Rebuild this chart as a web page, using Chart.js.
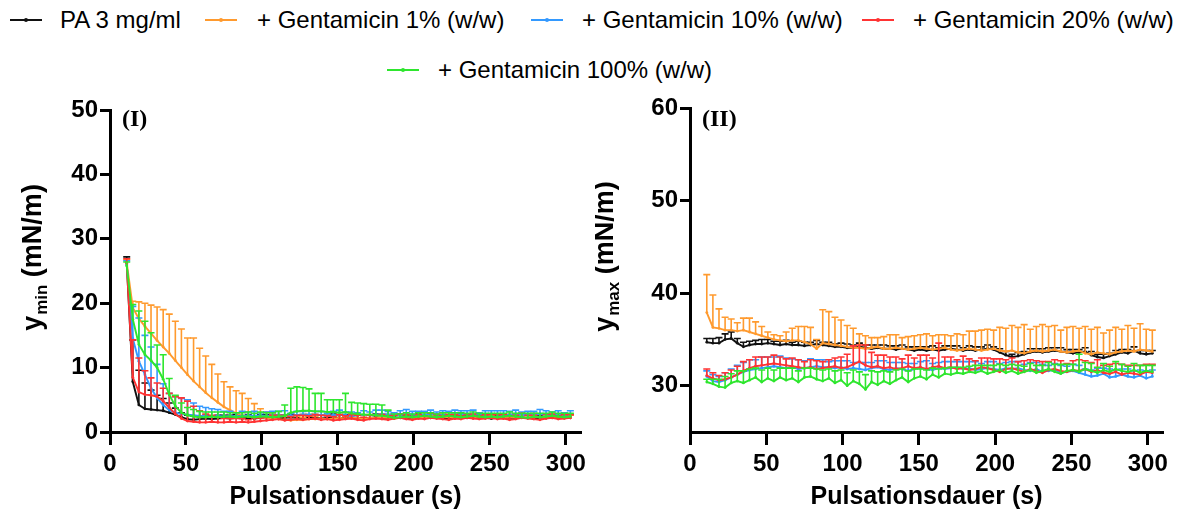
<!DOCTYPE html>
<html>
<head>
<meta charset="utf-8">
<script src="https://cdn.jsdelivr.net/npm/chart.js@4.4.1/dist/chart.umd.min.js"></script>
<style>
  html, body { margin: 0; padding: 0; background: #fff; }
  body { width: 1190px; height: 515px; position: relative; overflow: hidden;
         font-family: "Liberation Sans", Arial, sans-serif; }
  .sw { position: absolute; height: 2px; width: 32px; }
  .sw i { position: absolute; left: 14px; top: -1px; width: 4px; height: 4px; border-radius: 50%; }
  .lt { position: absolute; font-size: 24px; line-height: 28px; color: #000; white-space: nowrap; }
  .panel { position: absolute; top: 90px; width: 595px; height: 425px; }
</style>
</head>
<body>
<div id="legend"></div>
<div class="panel" style="left:0"><canvas id="cMin" width="595" height="425"></canvas></div>
<div class="panel" style="left:595px"><canvas id="cMax" width="595" height="425"></canvas></div>
<script>
// Pulsation time points (s)
const timeS = [11,15,19,23,27,31,35,39,43,47, 51,55,59,63,67,71,75,79,83,87,
  91,95,99,103,107,111,115,119,123,127, 131,135,139,143,147,151,155,159,163,167,
  171,175,179,183,187,191,195,199,203,207, 211,215,219,223,227,231,235,239,243,247,
  251,255,259,263,267,271,275,279,283,287, 291,295,299,303];

const seriesNames = ["PA 3 mg/ml", "+ Gentamicin 1% (w/w)", "+ Gentamicin 10% (w/w)",
  "+ Gentamicin 20% (w/w)", "+ Gentamicin 100% (w/w)"];
const seriesColors = ["#111111", "#ff9a2e", "#3399ff", "#ff3333", "#2ee62e"];

const xTicks = [0, 50, 100, 150, 200, 250, 300];
const yMinTicks = [0, 10, 20, 30, 40, 50];
const yMaxTicks = [30, 40, 50, 60];

// ---- minimum surface tension (mN/m), mean and SD ----
const yminPA = [26.4,7.8,4.2,3.6,3.5,3.4,3.3,3.0,2.7,2.3, 2.0,1.9,2.0,2.1,2.0,2.1,2.2,2.1,2.2,2.1,
  2.2,2.1,2.2,2.3,2.2,2.1,2.2,2.3,2.2,2.2, 2.3,2.2,2.1,2.2,2.3,2.2,2.2,2.3,2.2,2.1,
  2.2,2.3,2.2,2.2,2.3,2.2,2.1,2.2,2.3,2.2, 2.2,2.3,2.2,2.1,2.2,2.3,2.2,2.2,2.3,2.2,
  2.1,2.2,2.3,2.2,2.2,2.3,2.2,2.1,2.2,2.3, 2.2,2.2,2.3,2.2];
const yminPA_sd = [0.8,6.5,5.4,4.0,3.0,2.3,1.9,1.5,1.0,0.7, 0.6,0.6,0.5,0.5,0.5,0.5,0.4,0.5,0.5,0.4,
  0.5,0.4,0.5,0.4,0.5,0.5,0.4,0.5,0.4,0.5, 0.4,0.5,0.5,0.4,0.5,0.4,0.5,0.4,0.5,0.5,
  0.4,0.5,0.4,0.5,0.4,0.5,0.5,0.4,0.5,0.4, 0.5,0.4,0.5,0.5,0.4,0.5,0.4,0.5,0.4,0.5,
  0.5,0.4,0.5,0.4,0.5,0.4,0.5,0.5,0.4,0.5, 0.4,0.5,0.4,0.5];

const yminG1 = [26.3,19.3,17.6,16.4,15.3,14.2,13.2,12.2,11.1,10.0, 8.9,7.9,7.0,6.1,5.3,4.6,3.9,3.4,2.9,2.6,
  2.4,2.3,2.3,2.2,2.1,2.0,1.9,1.8,1.9,1.9, 2.0,2.0,2.1,2.0,2.1,2.2,2.1,2.2,2.2,2.1,
  2.2,2.2,2.3,2.2,2.1,2.2,2.3,2.2,2.2,2.3, 2.2,2.3,2.4,2.3,2.2,2.3,2.2,2.3,2.4,2.3,
  2.2,2.3,2.2,2.3,2.3,2.2,2.3,2.4,2.3,2.2, 2.3,2.4,2.3,2.2];
const yminG1_sd = [0.5,1.0,2.6,3.6,4.4,5.2,5.8,6.1,6.1,6.0, 5.7,6.7,6.0,5.7,5.2,4.4,3.9,3.6,3.5,3.4,
  2.8,2.1,1.3,0.9,0.7,0.6,0.5,0.6,0.5,0.4, 0.5,0.4,0.5,0.6,0.4,0.5,0.4,0.5,0.4,0.5,
  0.5,0.4,0.5,0.4,0.5,0.6,0.4,0.5,0.4,0.5, 0.4,0.5,0.5,0.4,0.5,0.4,0.5,0.4,0.5,0.5,
  0.4,0.5,0.4,0.5,0.4,0.5,0.4,0.5,0.5,0.4, 0.5,0.4,0.5,0.4];

const yminG10 = [26.0,14.5,11.0,8.9,6.8,5.3,4.2,3.4,3.0,2.8, 2.7,2.6,2.5,2.5,2.4,2.5,2.4,2.5,2.4,2.5,
  2.6,2.5,2.6,2.5,2.6,2.7,2.6,2.5,2.6,2.7, 2.6,2.7,2.6,2.5,2.6,2.7,2.6,2.5,2.6,2.7,
  2.6,2.7,2.8,2.7,2.6,2.7,2.8,2.7,2.6,2.7, 2.8,2.7,2.6,2.7,2.8,2.7,2.8,2.7,2.6,2.7,
  2.8,2.7,2.6,2.7,2.8,2.7,2.6,2.7,2.8,2.7, 2.6,2.7,2.6,2.7];
const yminG10_sd = [0.6,5.0,6.7,6.1,6.4,5.2,3.3,2.6,2.5,2.4, 2.3,1.9,1.5,1.3,1.2,1.0,0.8,0.7,0.6,0.7,
  0.5,0.7,0.4,0.6,0.6,0.5,0.7,0.4,0.6,0.5, 0.7,0.5,0.6,0.4,0.6,0.7,0.5,0.6,0.4,0.6,
  0.5,0.7,0.6,0.5,0.4,0.6,0.7,0.5,0.6,0.5, 0.6,0.4,0.7,0.5,0.6,0.6,0.5,0.7,0.4,0.6,
  0.5,0.6,0.7,0.5,0.6,0.4,0.6,0.5,0.7,0.6, 0.5,0.6,0.4,0.6];

const yminG20 = [26.2,8.5,6.2,5.8,5.7,5.5,4.8,3.8,2.8,2.1, 1.7,1.6,1.5,1.5,1.6,1.5,1.5,1.6,1.5,1.6,
  1.5,1.6,1.7,1.8,1.9,2.0,1.8,1.9,2.0,1.9, 2.0,2.1,1.9,2.0,1.8,1.9,2.0,2.1,1.9,1.8,
  2.0,2.1,2.0,1.9,2.1,2.2,2.0,1.9,2.1,2.0, 2.2,2.1,2.0,1.9,2.1,2.0,2.2,2.1,2.0,2.1,
  2.2,2.0,2.1,1.9,2.0,2.2,2.1,2.0,1.9,2.1, 2.2,2.0,2.1,2.2];
const yminG20_sd = [0.7,5.8,5.3,3.7,2.7,2.1,2.0,2.2,2.7,3.2, 3.1,2.4,1.8,1.3,1.0,0.8,0.6,0.5,0.6,0.5,
  0.4,0.6,0.5,0.5,0.7,0.6,0.8,0.5,0.6,0.7, 0.5,0.6,0.7,0.5,0.6,0.8,0.5,0.6,0.7,0.5,
  0.6,0.5,0.7,0.6,0.5,0.6,0.7,0.5,0.6,0.5, 0.7,0.6,0.5,0.8,0.6,0.5,0.6,0.7,0.5,0.6,
  0.5,0.7,0.6,0.5,0.6,0.7,0.5,0.6,0.5,0.7, 0.6,0.5,0.6,0.5];

const yminG100 = [25.8,17.5,13.6,12.0,11.1,10.0,8.2,5.8,4.0,3.0, 2.6,2.4,2.3,2.3,2.4,2.3,2.4,2.4,2.3,2.4,
  2.4,2.3,2.4,2.4,2.3,2.4,2.5,3.0,3.2,3.3, 3.3,3.2,3.2,3.1,3.1,3.0,3.1,2.9,2.8,2.7,
  2.7,2.6,2.5,2.4,2.2,2.3,2.4,2.3,2.4,2.5, 2.4,2.3,2.4,2.5,2.4,2.3,2.4,2.5,2.4,2.3,
  2.4,2.3,2.4,2.5,2.4,2.3,2.2,2.4,2.3,2.4, 2.5,2.4,2.3,2.4];
const yminG100_sd = [0.6,2.3,5.2,5.2,4.3,3.5,3.8,2.5,1.7,1.5, 1.2,1.1,0.9,0.8,0.7,0.8,0.7,0.6,0.7,0.6,
  0.7,0.6,0.7,0.6,0.7,0.8,1.7,3.8,3.8,3.6, 3.4,2.8,2.8,1.9,1.9,2.0,2.9,1.7,1.7,1.7,
  1.6,1.7,1.7,1.0,0.6,0.5,0.6,0.5,0.6,0.5, 0.6,0.5,0.6,0.5,0.6,0.7,0.5,0.6,0.5,0.6,
  0.5,0.6,0.5,0.6,0.5,0.6,0.7,0.5,0.6,0.5, 0.6,0.5,0.6,0.5];

// ---- maximum surface tension (mN/m), mean and SD ----
const ymaxPA = [34.7,34.6,34.6,35.0,35.1,34.6,34.2,34.4,34.5,34.5, 34.6,34.5,34.4,34.5,34.4,34.4,34.3,34.4,34.5,34.4,
  34.3,34.2,34.2,34.1,34.1,34.2,34.1,34.0,34.1,34.0, 34.0,33.9,34.0,33.9,33.8,33.9,33.8,33.9,33.8,33.9,
  34.0,33.9,33.8,33.9,33.8,33.9,34.0,33.9,33.6,33.3, 33.1,33.2,33.4,33.6,33.7,33.6,33.7,33.8,33.7,33.6,
  33.5,33.6,33.7,33.3,33.1,33.0,33.2,33.4,33.6,33.5, 33.8,33.5,33.4,33.5];
const ymaxPA_sd = [0.4,0.5,0.6,0.6,0.7,0.5,0.5,0.4,0.4,0.5, 0.4,0.3,0.4,0.4,0.3,0.4,0.4,0.3,0.4,0.3,
  0.4,0.3,0.4,0.4,0.3,0.4,0.3,0.4,0.3,0.4, 0.3,0.4,0.4,0.3,0.4,0.3,0.4,0.4,0.3,0.4,
  0.3,0.4,0.3,0.4,0.4,0.3,0.4,0.3,0.4,0.4, 0.3,0.4,0.3,0.4,0.3,0.4,0.4,0.3,0.4,0.3,
  0.4,0.3,0.4,0.4,0.3,0.4,0.3,0.4,0.3,0.4, 0.4,0.3,0.4,0.3];

const ymaxG1 = [37.9,36.3,36.2,36.0,36.0,35.9,36.0,35.8,35.6,35.4, 35.2,35.0,34.9,34.8,34.9,34.9,34.7,34.5,34.0,34.6,
  34.5,34.4,34.3,34.2,34.1,34.1,34.0,34.1,34.2,34.0, 34.0,34.1,34.0,33.9,34.0,34.1,34.0,33.9,34.0,34.1,
  33.9,33.8,33.9,34.0,33.9,33.8,33.9,34.0,33.8,33.7, 33.8,33.6,33.5,33.7,33.8,33.7,33.8,33.9,33.7,33.6,
  33.7,33.8,33.5,33.4,33.6,33.5,33.4,33.6,33.7,33.8, 33.7,33.9,33.8,33.7];
const ymaxG1_sd = [4.1,3.5,2.1,1.4,1.2,0.9,1.3,1.5,1.3,1.0, 0.6,0.5,0.5,1.0,1.3,1.5,1.7,1.8,1.0,3.6,
  3.5,3.0,2.8,2.3,2.1,1.5,1.4,1.1,1.0,1.3, 1.5,1.4,1.2,1.4,1.4,1.4,1.6,1.5,1.5,1.4,
  1.5,1.8,1.6,1.9,2.0,2.2,2.2,2.0,2.5,2.5, 2.7,2.7,3.1,2.4,2.6,2.9,2.6,2.6,2.3,2.7,
  2.7,2.4,2.9,2.7,2.7,2.2,2.6,2.7,2.4,2.7, 2.5,2.8,2.3,2.3];

const ymaxG10 = [31.0,30.5,30.4,30.6,30.9,31.2,31.5,31.7,31.8,31.9, 32.0,32.1,32.0,31.9,32.0,31.8,31.9,32.0,32.1,32.0,
  32.0,31.9,32.0,31.8,31.9,31.8,31.7,31.9,32.0,31.8, 31.7,31.9,31.8,31.6,31.8,31.9,31.8,31.7,31.9,31.8,
  31.9,32.0,31.8,31.9,31.7,31.8,31.9,31.8,31.7,31.9, 31.8,31.9,31.7,31.6,31.8,31.5,31.6,31.7,31.4,31.5,
  31.6,31.4,31.2,31.0,31.1,31.3,30.9,31.0,31.2,31.0, 30.9,31.1,30.8,31.0];
const ymaxG10_sd = [0.6,0.7,0.6,0.8,0.9,1.0,1.0,1.1,1.0,1.2, 1.1,1.0,1.2,1.1,0.9,1.0,0.8,0.9,0.7,0.8,
  0.6,0.8,0.7,0.9,0.6,0.7,0.8,0.6,0.7,0.9, 0.8,0.6,0.7,0.8,0.6,0.7,0.9,0.7,0.6,0.8,
  0.7,0.6,0.8,0.7,0.9,0.6,0.7,0.8,0.7,0.6, 0.8,0.7,0.6,0.9,0.7,0.8,0.6,0.7,0.8,0.6,
  0.7,0.8,0.6,0.7,0.8,0.6,0.9,0.7,0.6,0.8, 0.7,0.6,0.8,0.7];

const ymaxG20 = [31.1,30.8,30.6,30.7,30.9,31.2,31.6,31.9,32.1,32.2, 32.3,32.4,32.3,32.2,32.1,32.0,31.9,32.0,31.8,31.9,
  32.0,32.1,31.9,32.0,32.3,32.6,32.2,32.0,32.1,31.9, 32.0,31.8,31.9,32.1,31.9,32.0,31.8,32.0,32.1,31.9,
  32.0,31.8,31.9,31.7,31.8,32.0,31.9,31.7,31.5,31.8, 31.9,31.7,31.5,31.8,31.6,31.4,31.7,31.8,31.6,31.5,
  31.7,31.6,31.8,31.5,31.7,31.4,31.3,31.5,31.2,31.4, 31.3,31.2,31.5,31.4];
const ymaxG20_sd = [0.7,0.6,0.5,0.7,0.8,0.9,1.0,0.9,1.0,0.9, 0.8,0.9,0.8,0.7,0.9,0.8,0.7,0.8,0.9,0.7,
  0.8,0.9,1.2,1.4,2.0,1.8,2.2,1.6,1.2,1.4, 1.1,1.3,1.0,1.2,1.1,1.3,1.5,1.0,2.5,1.2,
  1.1,1.0,1.3,1.2,0.9,1.0,1.1,1.2,1.4,1.0, 1.1,0.9,1.2,1.0,1.1,1.2,0.9,1.0,1.1,0.9,
  1.0,1.2,0.9,1.0,1.1,0.8,1.0,0.9,1.1,0.8, 0.9,1.0,0.8,0.9];

const ymaxG100 = [30.4,30.2,29.9,29.8,30.3,30.5,30.3,30.6,30.9,30.4, 30.8,30.5,30.9,30.6,30.8,30.4,30.9,31.0,30.7,30.5,
  30.8,30.3,30.6,30.0,30.5,30.2,29.6,30.4,30.1,30.5, 30.2,30.6,30.9,30.4,30.8,31.0,30.7,31.2,30.9,31.3,
  31.2,31.4,31.3,31.5,31.4,31.6,31.3,31.5,31.7,31.4, 31.6,31.3,31.5,31.7,31.4,31.6,31.8,31.5,31.3,31.6,
  31.7,31.5,31.8,31.6,31.4,31.7,31.5,31.8,31.6,31.5, 31.7,31.4,31.6,31.5];
const ymaxG100_sd = [0.3,0.5,0.8,1.2,1.0,1.1,1.3,1.2,1.0,1.3, 1.1,1.2,1.0,1.3,1.1,1.2,1.0,0.9,1.1,1.2,
  1.0,1.3,1.1,1.4,1.2,1.3,1.6,1.2,1.4,1.1, 1.3,1.1,0.9,1.2,1.0,0.8,1.0,0.7,0.9,0.6,
  0.8,0.6,0.7,0.6,0.8,0.6,0.9,0.7,0.6,0.8, 0.7,0.9,0.6,0.7,0.8,0.6,0.7,0.8,1.0,0.7,
  0.6,1.9,0.7,0.8,0.6,0.7,0.6,0.8,0.7,0.6, 0.7,0.8,0.6,0.7];

// ---- legend (HTML) ----
const legendSlots = [
  {sx: 10,  tx: 60,  cy: 20},
  {sx: 205, tx: 257, cy: 20},
  {sx: 531, tx: 582, cy: 20},
  {sx: 862, tx: 913, cy: 20},
  {sx: 387, tx: 438, cy: 70}
];
const legendEl = document.getElementById('legend');
seriesNames.forEach((name, i) => {
  const s = legendSlots[i];
  const sw = document.createElement('div');
  sw.className = 'sw';
  sw.style.left = s.sx + 'px';
  sw.style.top = (s.cy - 1) + 'px';
  sw.style.background = seriesColors[i];
  const dot = document.createElement('i');
  dot.style.background = seriesColors[i];
  sw.appendChild(dot);
  legendEl.appendChild(sw);
  const tx = document.createElement('div');
  tx.className = 'lt';
  tx.style.left = s.tx + 'px';
  tx.style.top = (s.cy - 14) + 'px';
  tx.textContent = name;
  legendEl.appendChild(tx);
});

// ---- plugins ----
// Upper SD whiskers with caps, drawn right after each line
const sdWhiskers = {
  id: 'sdWhiskers',
  afterDatasetDraw(chart, args) {
    const ds = chart.data.datasets[args.index];
    if (!ds.sd) return;
    const ys = chart.scales.y;
    const ctx = chart.ctx;
    ctx.save();
    ctx.strokeStyle = ds.borderColor;
    ctx.lineWidth = 1.6;
    args.meta.data.forEach((pt, i) => {
      const top = ys.getPixelForValue(ds.data[i].y + ds.sd[i]);
      ctx.beginPath();
      ctx.moveTo(pt.x, pt.y);
      ctx.lineTo(pt.x, top);
      ctx.moveTo(pt.x - 3.5, top);
      ctx.lineTo(pt.x + 3.5, top);
      ctx.stroke();
    });
    ctx.restore();
  }
};

// Rotated y title with subscript, plus the panel tag
const panelText = {
  id: 'panelText',
  afterDraw(chart, args, o) {
    const ctx = chart.ctx;
    ctx.save();
    ctx.fillStyle = '#000';
    ctx.textAlign = 'left';
    ctx.textBaseline = 'alphabetic';
    ctx.font = 'bold 24px "Liberation Serif", "Times New Roman", serif';
    ctx.fillText(o.tag, o.tagX, o.tagY);

    const big = 'bold 27px "Liberation Sans", Arial, sans-serif';
    const small = 'bold 17px "Liberation Sans", Arial, sans-serif';
    ctx.translate(o.titleX, o.titleY);
    ctx.rotate(-Math.PI / 2);
    ctx.font = big;
    const wY = ctx.measureText('y').width;
    const wU = ctx.measureText(' (mN/m)').width;
    ctx.font = small;
    const wS = ctx.measureText(o.sub).width;
    let x = -(wY + wS + wU) / 2;
    ctx.font = big;
    ctx.fillText('y', x, 0);
    x += wY;
    ctx.font = small;
    ctx.fillText(o.sub, x + 1, 6);
    x += wS + 1;
    ctx.font = big;
    ctx.fillText(' (mN/m)', x, 0);
    ctx.restore();
  }
};

const tickFont = {family: '"Liberation Sans", Arial, sans-serif', weight: 'bold', size: 24};

function buildDatasets(means, sds) {
  return means.map((m, k) => ({
    label: seriesNames[k],
    data: timeS.map((t, i) => ({x: t, y: m[i]})),
    sd: sds[k],
    borderColor: seriesColors[k],
    backgroundColor: seriesColors[k],
    borderWidth: 1.9,
    pointRadius: 1.4,
    pointHoverRadius: 1.4,
    pointBorderWidth: 0,
    tension: 0,
    order: 5 - k
  }));
}

function makePanel(canvasId, means, sds, yMin, yMax, yTickVals, yWidth, padTop, padRight, text) {
  return new Chart(document.getElementById(canvasId), {
    type: 'line',
    data: {datasets: buildDatasets(means, sds)},
    plugins: [sdWhiskers, panelText],
    options: {
      responsive: false,
      animation: false,
      devicePixelRatio: 1,
      events: [],
      layout: {padding: {top: padTop, right: padRight, left: 0, bottom: 0}},
      plugins: {legend: {display: false}, tooltip: {enabled: false}, panelText: text},
      scales: {
        x: {
          type: 'linear', min: 0, max: 310,
          afterBuildTicks: s => { s.ticks = xTicks.map(v => ({value: v})); },
          afterFit: s => { s.height = 83; },
          ticks: {color: '#000', font: tickFont, padding: 5, maxRotation: 0},
          grid: {drawOnChartArea: false, drawTicks: true, tickLength: 13, tickWidth: 3, tickColor: '#000'},
          border: {display: true, color: '#000', width: 3},
          title: {display: true, text: 'Pulsationsdauer (s)', color: '#000',
                  font: {family: '"Liberation Sans", Arial, sans-serif', weight: 'bold', size: 25},
                  padding: {top: 0, bottom: 3}}
        },
        y: {
          type: 'linear', min: yMin, max: yMax,
          afterBuildTicks: s => { s.ticks = yTickVals.map(v => ({value: v})); },
          afterFit: s => { s.width = yWidth; },
          ticks: {color: '#000', font: tickFont, padding: 2},
          grid: {drawOnChartArea: false, drawTicks: true, tickLength: 10, tickWidth: 3, tickColor: '#000'},
          border: {display: true, color: '#000', width: 3}
        }
      }
    }
  });
}

makePanel('cMin',
  [yminPA, yminG1, yminG10, yminG20, yminG100],
  [yminPA_sd, yminG1_sd, yminG10_sd, yminG20_sd, yminG100_sd],
  0, 50, yMinTicks, 110, 20, 14,
  {tag: '(I)', tagX: 122, tagY: 36, sub: 'min', titleX: 41, titleY: 168});

makePanel('cMax',
  [ymaxPA, ymaxG1, ymaxG10, ymaxG20, ymaxG100],
  [ymaxPA_sd, ymaxG1_sd, ymaxG10_sd, ymaxG20_sd, ymaxG100_sd],
  25, 60, yMaxTicks, 95, 18, 27,
  {tag: '(II)', tagX: 107, tagY: 36, sub: 'max', titleX: 18, titleY: 167});
</script>
</body>
</html>
